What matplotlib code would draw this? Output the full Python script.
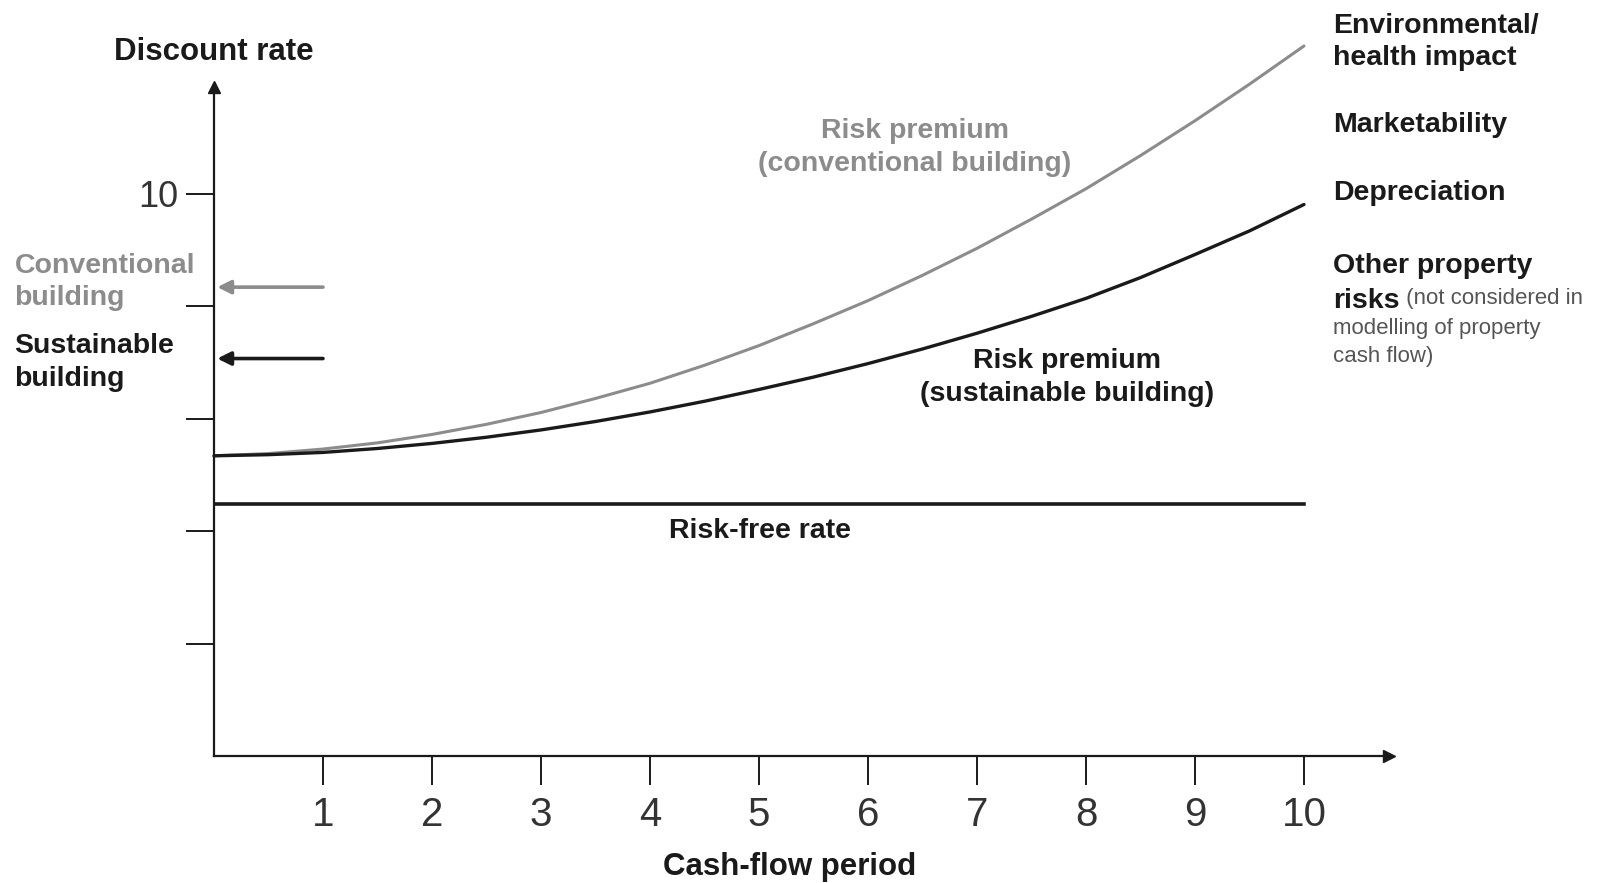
import matplotlib
matplotlib.use("Agg")
import matplotlib.pyplot as plt

plt.rcParams["font.family"] = ["Liberation Sans", "DejaVu Sans"]

# cash-flow periods and discount rates
periods = [0, 0.5, 1, 1.5, 2, 2.5, 3, 3.5, 4, 4.5, 5, 5.5, 6, 6.5, 7, 7.5, 8, 8.5, 9, 9.5, 10]
conventional = [5.34, 5.38, 5.46, 5.57, 5.72, 5.90, 6.11, 6.36, 6.63, 6.95, 7.30,
                7.69, 8.10, 8.55, 9.03, 9.55, 10.09, 10.68, 11.30, 11.95, 12.63]
sustainable = [5.34, 5.36, 5.40, 5.47, 5.56, 5.67, 5.80, 5.95, 6.12, 6.31, 6.52,
               6.74, 6.98, 7.24, 7.52, 7.82, 8.14, 8.51, 8.92, 9.34, 9.81]
risk_free = [4.49, 4.49]
risk_free_span = [0, 10]

x_ticks = [1, 2, 3, 4, 5, 6, 7, 8, 9, 10]
y_ticks = [2, 4, 6, 8, 10]
y_tick_labels = ["", "", "", "", "10"]

# arrows marking the discount rate of each building type
arrow_levels = [8.34, 7.07]
arrow_start = 1

right_labels = ["Environmental/\nhealth impact", "Marketability", "Depreciation"]
right_label_levels = [12.70, 11.22, 10.01]

GRAY = "#8c8c8c"
DARK = "#1a1a1a"
NOTE = "#555555"


def setup_axes(fig):
    ax = fig.add_axes([214 / 1599, 127 / 883, (1389 - 214) / 1599, (756 - 87) / 883])
    ax.set_xlim(0, 10.78)
    ax.set_ylim(0, 11.9)
    for side in ["top", "right"]:
        ax.spines[side].set_visible(False)
    for side in ["left", "bottom"]:
        ax.spines[side].set_linewidth(1.6)
        ax.spines[side].set_color(DARK)
    ax.plot(1, 0, ">", color=DARK, ms=8, transform=ax.transAxes, clip_on=False)
    ax.plot(0, 1, "^", color=DARK, ms=8, transform=ax.transAxes, clip_on=False)

    ax.set_xticks(x_ticks)
    ax.set_xticklabels([str(t) for t in x_ticks])
    ax.set_yticks(y_ticks)
    ax.set_yticklabels(y_tick_labels)
    ax.tick_params(axis="x", direction="out", length=21, width=1.4, color=DARK,
                   labelsize=29, labelcolor="#333333", pad=8)
    ax.tick_params(axis="y", direction="out", length=20, width=1.4, color=DARK,
                   labelsize=26, labelcolor="#333333", pad=6)
    return ax


def draw_lines(ax):
    ax.plot(periods, conventional, color=GRAY, lw=2.2, clip_on=False,
            solid_capstyle="round", solid_joinstyle="round")
    ax.plot(periods, sustainable, color=DARK, lw=2.4, clip_on=False,
            solid_capstyle="round", solid_joinstyle="round")
    ax.plot(risk_free_span, risk_free, color=DARK, lw=2.6)

    for level, col in zip(arrow_levels, [GRAY, DARK]):
        ax.annotate("", xy=(0.03, level), xytext=(arrow_start, level),
                    arrowprops=dict(arrowstyle="-|>", color=col, lw=2.6,
                                    mutation_scale=20, shrinkA=0, shrinkB=0))


def draw_labels(ax):
    bold = dict(fontsize=20.5, fontweight="bold", clip_on=False, linespacing=1.34)

    ax.text(0, 12.52, "Discount rate", ha="center", va="center",
            fontsize=22.5, fontweight="bold", color=DARK)
    ax.text(5.28, -1.98, "Cash-flow period", ha="center", va="center",
            fontsize=22.5, fontweight="bold", color=DARK)

    ax.text(5.01, 4.0, "Risk-free rate", ha="center", va="center", color=DARK, **bold)
    ax.text(7.83, 6.73, "Risk premium\n(sustainable building)", ha="center",
            va="center", color=DARK, **bold)
    ax.text(6.43, 10.83, "Risk premium\n(conventional building)", ha="center",
            va="center", color=GRAY, **bold)

    ax.text(-1.83, 8.43, "Conventional\nbuilding", ha="left", va="center",
            color=GRAY, **bold)
    ax.text(-1.83, 7.00, "Sustainable\nbuilding", ha="left", va="center",
            color=DARK, **bold)

    for label, level in zip(right_labels, right_label_levels):
        ax.text(10.27, level, label, ha="left", va="center", color=DARK, **bold)

    ax.text(10.27, 8.72, "Other property", ha="left", va="center", color=DARK, **bold)
    risks = ax.text(10.27, 8.10, "risks", ha="left", va="center", color=DARK, **bold)
    ax.annotate(" (not considered in", xy=(1, 0.18), xycoords=risks,
                ha="left", va="bottom", fontsize=16, color=NOTE,
                annotation_clip=False)
    ax.text(10.27, 7.60, "modelling of property", ha="left", va="center",
            fontsize=16, color=NOTE, clip_on=False)
    ax.text(10.27, 7.11, "cash flow)", ha="left", va="center",
            fontsize=16, color=NOTE, clip_on=False)


def main():
    fig = plt.figure(figsize=(15.99, 8.83), dpi=100)
    ax = setup_axes(fig)
    draw_lines(ax)
    draw_labels(ax)
    fig.savefig("out.png", dpi=100, facecolor="white")
    plt.close(fig)


if __name__ == "__main__":
    main()
